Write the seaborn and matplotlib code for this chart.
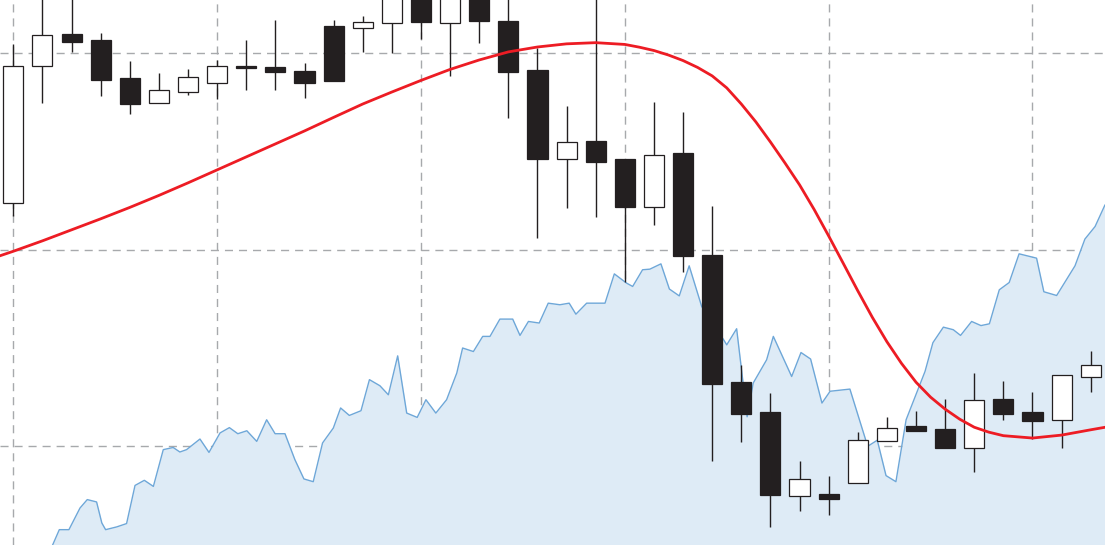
import matplotlib
matplotlib.use("Agg")
import matplotlib.pyplot as plt
import seaborn as sns
import numpy as np

# ---- daily candles (day index 0..37) ----
DAYS = list(range(38))
OPEN = [112.38, 119.34, 121.00, 120.69, 118.76, 117.46, 118.05, 118.51, 119.37, 119.29,
        119.12, 121.40, 121.27, 121.54, 123.30, 121.56, 123.20, 121.66, 119.17, 114.64,
        115.53, 114.63, 112.20, 114.95, 109.75, 103.28, 101.73, 97.46, 97.60, 98.12,
        100.26, 101.02, 100.89, 99.92, 102.44, 101.77, 101.33, 103.53]
HIGH = [120.47, 123.10, 123.00, 121.02, 119.61, 118.98, 119.20, 119.64, 120.68, 121.69,
        119.52, 121.69, 121.90, 123.70, 123.60, 123.80, 123.50, 123.00, 120.25, 117.32,
        123.50, 114.63, 117.54, 117.00, 112.25, 104.14, 102.72, 99.28, 98.48, 100.72,
        101.48, 101.83, 102.43, 103.74, 103.33, 102.75, 103.65, 104.87]
LOW = [111.73, 117.47, 120.07, 117.83, 116.90, 117.46, 117.88, 117.68, 118.13, 118.13,
       117.74, 118.58, 120.08, 120.00, 120.73, 118.85, 120.51, 116.71, 110.61, 112.12,
       111.68, 108.38, 111.26, 108.90, 99.24, 100.21, 95.89, 96.74, 96.53, 98.12,
       100.26, 100.80, 99.92, 98.68, 101.36, 100.38, 99.92, 102.75]
CLOSE = [119.37, 120.95, 120.59, 118.64, 117.41, 118.13, 118.78, 119.37, 119.24, 119.03,
         118.51, 118.58, 121.61, 123.20, 121.59, 123.40, 121.63, 119.05, 114.63, 115.48,
         114.46, 112.20, 114.85, 109.70, 103.19, 101.65, 97.51, 98.36, 97.35, 100.31,
         100.96, 100.80, 99.92, 102.38, 101.67, 101.30, 103.65, 104.17]

# ---- smooth red trend line ----
RED_X = [-0.5, 0, 1, 2, 3, 4, 5, 6, 7, 8, 9, 10, 11, 12, 13, 14, 15, 16, 17, 18, 19, 20, 21,
         21.5, 22, 22.5, 23, 23.5, 24, 24.5, 25, 25.5, 26, 26.5, 27, 27.5, 28, 28.5, 29,
         29.5, 30, 30.5, 31, 31.5, 32, 32.5, 33, 33.5, 34, 35, 36, 37, 37.5]
RED_Y = [109.68, 109.93, 110.46, 111.02, 111.58, 112.16, 112.77, 113.41, 114.07, 114.73,
         115.39, 116.05, 116.74, 117.42, 118.03, 118.62, 119.18, 119.66, 120.07, 120.32,
         120.48, 120.54, 120.45,
         120.31, 120.14, 119.91, 119.63, 119.28, 118.85, 118.24, 117.42, 116.51, 115.49,
         114.42, 113.31, 112.06, 110.71, 109.32, 107.92, 106.57, 105.33, 104.23, 103.27,
         102.51, 101.90, 101.39, 100.98, 100.73, 100.55, 100.43, 100.58, 100.85, 100.98]

# ---- blue area series ----
BLUE_X = [1.25, 1.58, 1.91, 2.29, 2.54, 2.86, 3.04, 3.17, 3.55, 3.89,
          4.18, 4.50, 4.81, 5.15, 5.49, 5.72, 5.95, 6.41, 6.72, 7.10,
          7.42, 7.71, 8.02, 8.36, 8.70, 8.99, 9.33, 9.67, 9.98, 10.30,
          10.62, 10.99, 11.24, 11.54, 11.94, 12.23, 12.59, 12.88, 13.20, 13.51,
          13.87, 14.17, 14.51, 14.88, 15.23, 15.43, 15.80, 16.12, 16.37, 16.71,
          17.15, 17.40, 17.69, 18.06, 18.37, 18.77, 19.09, 19.32, 19.69, 20.32,
          20.64, 21.06, 21.27, 21.61, 21.86, 22.24, 22.53, 22.87, 23.21, 23.64,
          24.41, 24.50, 24.84, 25.20, 25.41, 25.87, 26.10, 26.73, 27.05, 27.38,
          27.77, 28.05, 28.73, 29.34, 29.67, 29.97, 30.31, 30.66, 31.31, 31.58,
          31.94, 32.28, 32.53, 32.91, 33.23, 33.52, 33.86, 34.20, 34.54, 35.14,
          35.39, 35.83, 36.46, 36.80, 37.15, 37.49]
BLUE_Y = [94.65, 95.77, 95.77, 96.87, 97.30, 97.18, 96.11, 95.77, 95.91, 96.08,
          98.02, 98.28, 97.97, 99.84, 99.95, 99.72, 99.84, 100.38, 99.70, 100.69,
          100.96, 100.65, 100.80, 100.26, 101.36, 100.65, 100.65, 99.33, 98.35, 98.21,
          100.18, 100.94, 101.96, 101.58, 101.82, 103.40, 103.09, 102.63, 104.61, 101.70,
          101.48, 102.38, 101.70, 102.38, 103.74, 105.01, 104.83, 105.60, 105.60, 106.48,
          106.48, 105.65, 106.36, 106.28, 107.29, 107.21, 107.29, 106.73, 107.29, 107.29,
          108.78, 108.31, 108.14, 108.99, 109.02, 109.29, 108.01, 107.66, 109.19, 107.12,
          105.39, 105.17, 105.99, 101.51, 103.23, 104.41, 105.60, 103.56, 104.78, 104.45,
          102.21, 102.81, 102.92, 100.01, 100.32, 98.52, 98.21, 101.36, 103.82, 105.28,
          106.07, 105.94, 105.65, 106.36, 106.15, 106.24, 107.97, 108.34, 109.80, 109.58,
          107.87, 107.68, 109.19, 110.55, 111.19, 112.29]

GRID_X = [0, 7, 14, 21, 28, 35]
GRID_Y = [100, 110, 120]

DARK = "#231f20"

sns.set_theme(style="white")
fig = plt.figure(figsize=(11.05, 5.45), dpi=100)
ax = fig.add_axes([0, 0, 1, 1])

# blue area
ax.fill_between(BLUE_X, BLUE_Y, 90, color="#deebf6", lw=0, zorder=1)
sns.lineplot(x=BLUE_X, y=BLUE_Y, ax=ax, color="#6ea7d8", lw=1.0,
             estimator=None, sort=False, zorder=2.5)

# candles
o = np.array(OPEN); c = np.array(CLOSE)
up = c > o
ax.vlines(DAYS, LOW, HIGH, color=DARK, lw=1.0, zorder=3)
ax.bar(DAYS, np.abs(c - o), bottom=np.minimum(o, c), width=0.69,
       color=np.where(up, "white", DARK), edgecolor=DARK, lw=0.9, zorder=3.2)

# red trend
sns.lineplot(x=RED_X, y=RED_Y, ax=ax, color="#ed1c24", lw=2.0,
             estimator=None, sort=False, zorder=4)

ax.set_xticks(GRID_X)
ax.set_yticks(GRID_Y)
ax.set_xticklabels([])
ax.set_yticklabels([])
ax.tick_params(length=0)
ax.grid(True, color="#a7a9ac", lw=1.0, ls=(0, (5.8, 4.3)))
for s in ax.spines.values():
    s.set_visible(False)

ax.set_xlim(-0.457, 37.49)
ax.set_ylim(94.99, 122.71)

fig.savefig("out.png", dpi=100)
